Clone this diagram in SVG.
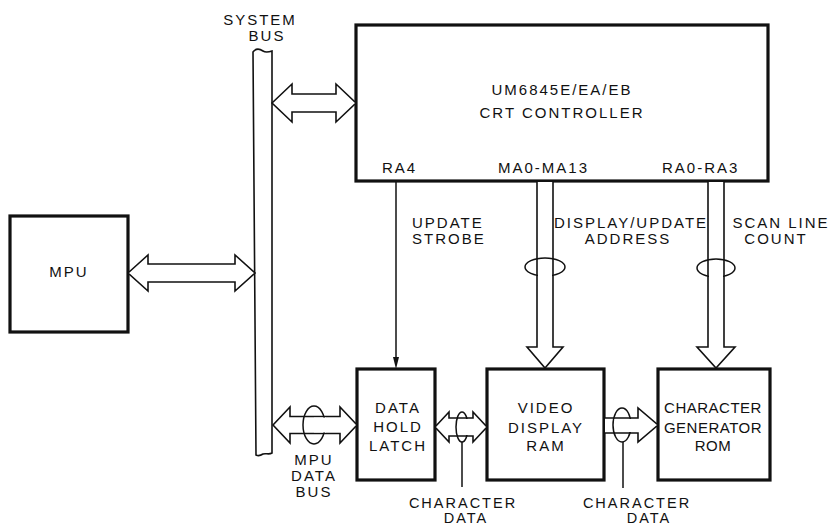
<svg xmlns="http://www.w3.org/2000/svg" width="829" height="525" viewBox="0 0 829 525">
<style>
text{font-family:"Liberation Sans",Arial,Helvetica,sans-serif;font-size:15px;fill:#111;letter-spacing:2px}
.m{text-anchor:middle}
.box{fill:#fff;stroke:#111;stroke-width:3.2}
.bus{fill:#fff;stroke:#111;stroke-width:1.6;stroke-linejoin:miter}
.ln{fill:none;stroke:#111;stroke-width:1.5}
.hide{fill:#fff;stroke:none}
.tight{letter-spacing:0.5px}
.sm{font-size:14.5px}
</style>
<rect width="829" height="525" fill="#fff"/>

<g id="system-bus">
<path class="bus" d="M253,52 C256,48 260,49 263,51 C266,53 269,52 272,51 L272,453 C269,455 266,453 263,454 C260,456 258,456 256,455 Z"/>
<text class="m" x="260" y="25">SYSTEM</text>
<text class="m" x="267" y="41">BUS</text>
</g>

<g id="crt-controller">
<rect class="box" x="356" y="25" width="412" height="156"/>
<text class="m" x="562" y="95">UM6845E/EA/EB</text>
<text class="m" x="562" y="118">CRT  CONTROLLER</text>
<text x="382" y="173">RA4</text>
<text x="498" y="173">MA0-MA13</text>
<text x="662" y="173">RA0-RA3</text>
</g>

<g id="mpu">
<rect class="box" x="10" y="216" width="118" height="116"/>
<text class="m" x="69" y="277">MPU</text>
</g>

<g id="data-hold-latch">
<rect class="box" x="357" y="369" width="78" height="111"/>
<text class="m" x="398" y="413">DATA</text>
<text class="m" x="398" y="432">HOLD</text>
<text class="m" x="398" y="451">LATCH</text>
</g>

<g id="video-display-ram">
<rect class="box" x="487" y="369" width="117" height="111"/>
<text class="m" x="546" y="413">VIDEO</text>
<text class="m" x="546" y="433">DISPLAY</text>
<text class="m" x="546" y="451">RAM</text>
</g>

<g id="character-generator-rom">
<rect class="box" x="658" y="369" width="112" height="111"/>
<text class="m tight" x="713" y="413">CHARACTER</text>
<text class="m tight" x="713" y="433">GENERATOR</text>
<text class="m tight" x="713" y="451">ROM</text>
</g>

<g id="connectors">
<!-- system bus <-> CRT -->
<polygon class="bus" points="272,103 292,84 292,94 336,94 336,84 356,103 336,122 336,112 292,112 292,122"/>
<!-- MPU <-> system bus -->
<polygon class="bus" points="128,273 148,255 148,264 235,264 235,255 255,273 235,291 235,282 148,282 148,291"/>
<!-- system bus <-> latch (MPU data bus) -->
<polygon class="bus" points="273,425 290,407 290,416.5 340,416.5 340,407 357,425 340,443 340,433.5 290,433.5 290,443"/>
<ellipse class="ln" cx="314" cy="425" rx="11" ry="19"/>
<rect class="hide" x="314" y="417.6" width="12" height="14.8"/>
<text class="m" x="314" y="465">MPU</text>
<text class="m" x="314" y="481">DATA</text>
<text class="m" x="314" y="497">BUS</text>

<!-- latch <-> RAM -->
<polygon class="bus" points="435,427 449,412 449,418 473,418 473,412 487,427 473,442 473,436 449,436 449,442"/>
<ellipse class="ln" cx="462" cy="427" rx="6" ry="15"/>
<rect class="hide" x="462" y="419" width="7" height="16"/>
<line class="ln" x1="462" y1="442" x2="462" y2="487"/>
<text class="m sm" x="463" y="508">CHARACTER</text>
<text class="m sm" x="466" y="523">DATA</text>

<!-- RAM -> ROM -->
<path class="bus" d="M605,418 H638 V408 L658,425 L638,442 V433 H605"/>
<ellipse class="ln" cx="622" cy="425" rx="9" ry="17"/>
<rect class="hide" x="622" y="419" width="10" height="13"/>
<line class="ln" x1="623" y1="442" x2="623" y2="488"/>
<text class="m sm" x="637" y="508">CHARACTER</text>
<text class="m sm" x="649" y="523">DATA</text>

<!-- RA4 update strobe -->
<line class="ln" x1="396" y1="182" x2="396" y2="360"/>
<polygon points="393,357 399,357 396,369" fill="#111"/>
<text x="412" y="228">UPDATE</text>
<text x="412" y="244">STROBE</text>

<!-- MA0-MA13 -> RAM -->
<path class="bus" d="M537,182 V347 H527 L545,368 L563,347 H553 V182"/>
<ellipse class="ln" cx="545" cy="267" rx="20" ry="9"/>
<rect class="hide" x="538" y="267" width="14" height="10"/>
<text class="m" x="631" y="228">DISPLAY/UPDATE</text>
<text class="m" x="628" y="244">ADDRESS</text>

<!-- RA0-RA3 -> ROM -->
<path class="bus" d="M708,182 V347 H697 L716,368 L735,347 H724 V182"/>
<ellipse class="ln" cx="716" cy="268" rx="19" ry="9"/>
<rect class="hide" x="709" y="268" width="14" height="10"/>
<text class="m" x="781" y="228">SCAN LINE</text>
<text class="m" x="776" y="244">COUNT</text>
</g>
</svg>
